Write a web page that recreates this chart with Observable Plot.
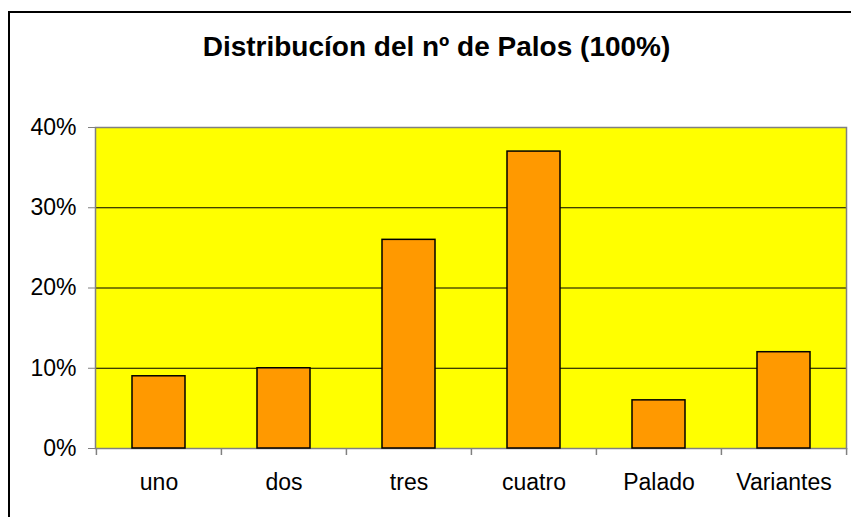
<!DOCTYPE html>
<html>
<head>
<meta charset="utf-8">
<script src="https://cdn.jsdelivr.net/npm/d3@7"></script>
<script src="https://cdn.jsdelivr.net/npm/@observablehq/plot@0.6"></script>
<style>
  html, body { margin: 0; padding: 0; background: #fff; overflow: hidden; }
  #wrap { position: relative; width: 851px; height: 517px; overflow: hidden; font-family: "Liberation Sans", Arial, sans-serif; }
  #border { position: absolute; left: 8px; top: 11px; width: 900px; height: 600px; border: 2px solid #000; box-sizing: border-box; }
  #title { position: absolute; left: 0; top: 33px; width: 873px; text-align: center; font-size: 28px; line-height: 28px; font-weight: bold; color: #000; }
  #chart { position: absolute; left: 0; top: 0; }
</style>
</head>
<body>
<div id="wrap">
  <div id="border"></div>
  <div id="title">Distribucíon del nº de Palos (100%)</div>
  <div id="chart"></div>
</div>
<script>
const categories = ["uno", "dos", "tres", "cuatro", "Palado", "Variantes"];
const values = [0.09, 0.10, 0.26, 0.37, 0.06, 0.12];
const yTicks = [0, 0.1, 0.2, 0.3, 0.4];
const gridValues = [0.1, 0.2, 0.3];

const data = categories.map((c, i) => ({cat: c, value: values[i]}));

const W = 851, H = 517, ML = 95, MR = 5, MT = 127, MB = 69;
const step = (W - ML - MR) / categories.length;
const fontFamily = '"Liberation Sans", Arial, sans-serif';

const chart = Plot.plot({
  width: W,
  height: H,
  marginLeft: ML,
  marginRight: MR,
  marginTop: MT,
  marginBottom: MB,
  style: {background: "transparent", fontFamily, color: "#000"},
  x: {domain: categories, paddingInner: 0.58, paddingOuter: 0.29, label: null},
  y: {domain: [0, 0.4], label: null},
  marks: [
    Plot.frame({fill: "#ffff00", stroke: null}),
    Plot.ruleY(gridValues, {stroke: "#000", strokeWidth: 1}),
    Plot.frame({stroke: "#808080", strokeWidth: 1.5}),
    Plot.barY(data, {x: "cat", y: "value", fill: "#ff9900", stroke: "#000", strokeWidth: 1.5}),
    Plot.axisY({ticks: yTicks, tickSize: 7, tickFormat: () => "", color: "#808080"}),
    Plot.axisY({ticks: yTicks, tickSize: 0, tickPadding: 19, tickFormat: d3.format(".0%"), fontSize: 23, color: "#000"}),
    Plot.ruleX(categories, {x: d => d, y1: 0, y2: 0, insetBottom: -7, dx: -step / 2, stroke: "#808080", strokeWidth: 1.5}),
    Plot.ruleX(categories.slice(-1), {x: d => d, y1: 0, y2: 0, insetBottom: -7, dx: step / 2, stroke: "#808080", strokeWidth: 1.5}),
    Plot.axisX({tickSize: 0, tickPadding: 25, fontSize: 23, color: "#000"})
  ]
});
document.getElementById("chart").appendChild(chart);
</script>
</body>
</html>
